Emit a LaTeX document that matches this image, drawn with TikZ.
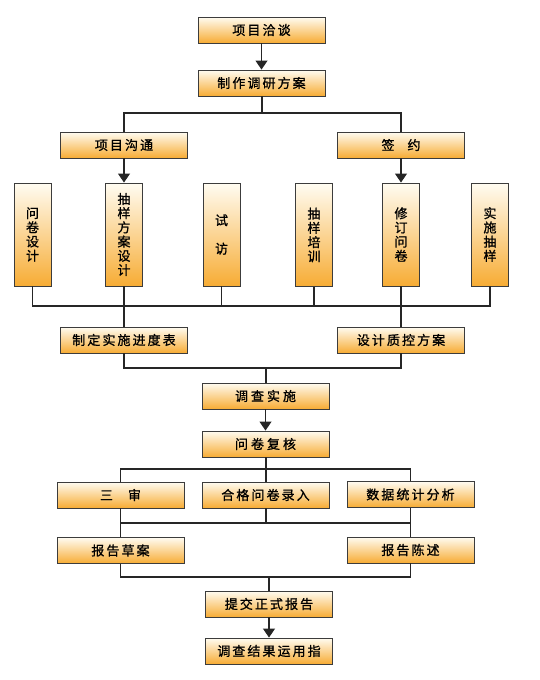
\documentclass[tikz,border=0pt]{standalone}
\usepackage{fontspec}
\newfontfamily\cjk[LetterSpace=16,FakeBold=1]{Noto Sans CJK SC}
\newfontfamily\cjkv[FakeBold=1]{Noto Sans CJK SC}
\usetikzlibrary{arrows.meta}
\definecolor{boxtop}{RGB}{255,252,242}
\definecolor{boxbot}{RGB}{247,172,52}
\definecolor{edge}{RGB}{60,60,60}
\newcommand\gp[1]{\hspace{#1}}
\begin{document}
\begin{tikzpicture}[x=1pt,y=-1pt,
  hbox/.style={draw=edge,line width=0.9pt,top color=boxtop,bottom color=boxbot,
    minimum width=127pt,minimum height=26pt,inner sep=0pt,font=\cjk\fontsize{13}{14}\selectfont},
  vbox/.style={draw=edge,line width=0.9pt,top color=boxtop,bottom color=boxbot,
    minimum width=37pt,minimum height=103pt,inner sep=0pt,align=center,
    font=\cjkv\fontsize{13}{14.2}\selectfont},
  wire/.style={draw=black!85,line width=1.1pt},
  arr/.style={wire,-{Triangle[width=12pt,length=9pt]}}]
\useasboundingbox (0,0) rectangle (540,680);
% nodes
\node[hbox] (b1) at (261.5,30) {项目洽谈};
\node[hbox] (b2) at (261.5,83) {制作调研方案};
\node[hbox] (c1) at (124,145) {项目沟通};
\node[hbox] (c2) at (401,145) {签\gp{13pt}约};
\node[vbox] (v1) at (32.5,234.5) {问\\卷\\设\\计};
\node[vbox] (v2) at (124,234.5) {抽\\样\\方\\案\\设\\计};
\node[vbox] (v3) at (221.5,234.5) {试\\[14.2pt]访};
\node[vbox] (v4) at (314,235) {抽\\样\\培\\训};
\node[vbox] (v5) at (401,234.5) {修\\订\\问\\卷};
\node[vbox] (v6) at (490,234.5) {实\\施\\抽\\样};
\node[hbox] (d1) at (124,340) {制定实施进度表};
\node[hbox] (d2) at (401,340) {设计质控方案};
\node[hbox] (e1) at (265.5,396) {调\gp{3pt}查\gp{3pt}实\gp{3pt}施};
\node[hbox] (e2) at (265.5,444) {问\gp{3pt}卷\gp{3pt}复\gp{3pt}核};
\node[hbox] (f1) at (120.5,495) {三\gp{15pt}审};
\node[hbox] (f2) at (265.5,495) {合格问卷录入};
\node[hbox] (f3) at (410.5,494.5) {数据统计分析};
\node[hbox] (g1) at (120.5,550.5) {报告草案};
\node[hbox] (g2) at (410.5,550) {报告陈述};
\node[hbox] (h1) at (269,604) {提交正式报告};
\node[hbox] (h2) at (269,651) {调查结果运用指};
% junction levels
\coordinate (j1) at (262,113);
\coordinate (j2) at (0,306);
\coordinate (j3) at (266,368);
\coordinate (j4) at (266,469);
\coordinate (j5) at (266,523);
\coordinate (j6) at (269,577);
% connectors
\draw[arr] (b1) -- (b2);
\draw[wire] (b2.south -| j1) -- (j1);
\draw[wire] (c1.north) |- (j1) -| (c2.north);
\draw[arr] (c1) -- (v2);
\draw[arr] (c2) -- (v5);
\draw[wire] (v1.south) -- (v1.south |- j2) -- (v6.south |- j2) -- (v6.south);
\draw[wire] (v3.south) -- (v3.south |- j2);
\draw[wire] (v4.south) -- (v4.south |- j2);
\draw[wire] (v2.south) -- (d1.north);
\draw[wire] (v5.south) -- (d2.north);
\draw[wire] (d1.south) |- (j3) -| (d2.south);
\draw[wire] (j3) -- (e1.north -| j3);
\draw[arr] (e1) -- (e2);
\draw[wire] (e2.south -| j4) -- (j4);
\draw[wire] (f1.north) |- (j4) -| (f3.north);
\draw[wire] (j4) -- (f2.north -| j4);
\draw[wire] (f1.south) -- (g1.north);
\draw[wire] (f3.south) -- (g2.north);
\draw[wire] (f1.south |- j5) -- (f3.south |- j5);
\draw[wire] (f2.south -| j5) -- (j5);
\draw[wire] (g1.south) |- (j6) -| (g2.south);
\draw[wire] (j6) -- (h1.north -| j6);
\draw[arr] (h1) -- (h2);
\end{tikzpicture}
\end{document}
